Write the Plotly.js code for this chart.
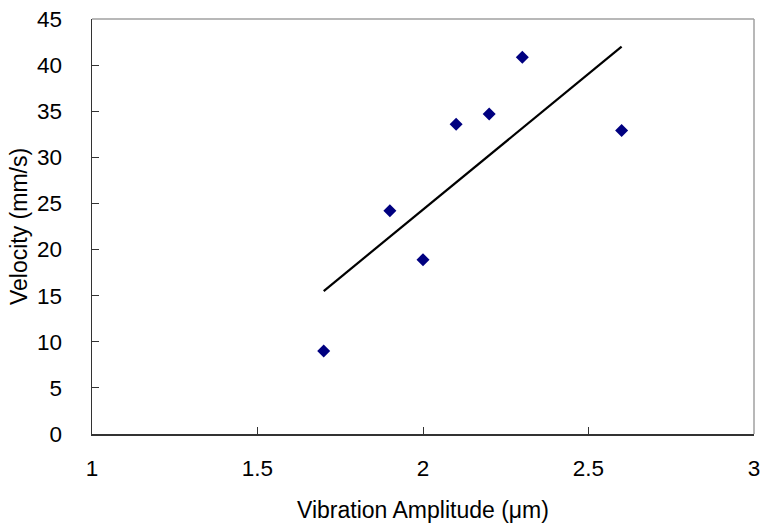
<!DOCTYPE html>
<html>
<head>
<meta charset="utf-8">
<script src="https://cdn.plot.ly/plotly-3.0.1.min.js"></script>
<style>html,body{margin:0;padding:0;background:#fff;}#chart{width:763px;height:526px;}</style>
</head>
<body>
<div id="chart"></div>
<script>
const amplitude = [1.7, 1.9, 2.0, 2.1, 2.2, 2.3, 2.6];
const velocity = [9.0, 24.2, 18.9, 33.6, 34.7, 40.85, 32.9];
const trendX = [1.7, 2.6];
const trendY = [15.5, 42.0];
const xTicks = [1, 1.5, 2, 2.5, 3];
const yTicks = [0, 5, 10, 15, 20, 25, 30, 35, 40, 45];

const tickFont = {family: 'Liberation Sans, Arial, sans-serif', size: 22.5, color: '#000'};
const titleFont = {family: 'Liberation Sans, Arial, sans-serif', size: 23, color: '#000'};

const traces = [
  {x: trendX, y: trendY, type: 'scatter', mode: 'lines',
   line: {color: '#000', width: 2.2}, hoverinfo: 'skip'},
  {x: amplitude, y: velocity, type: 'scatter', mode: 'markers',
   marker: {symbol: 'diamond', size: 10, color: '#000080'}}
];

const layout = {
  width: 763, height: 526,
  margin: {l: 91.5, r: 9, t: 19, b: 92.3},
  paper_bgcolor: '#fff', plot_bgcolor: '#fff',
  showlegend: false,
  font: tickFont,
  xaxis: {
    range: [1, 3], tickvals: xTicks, ticktext: xTicks.map(String),
    showgrid: false, zeroline: false,
    showline: true, linecolor: '#333', linewidth: 1.5,
    ticks: 'inside', ticklen: 7, tickcolor: '#333', tickwidth: 1,
    tickfont: tickFont, ticklabelstandoff: 13,
    title: {text: 'Vibration Amplitude (μm)', font: titleFont, standoff: 22}
  },
  yaxis: {
    range: [0, 45], tickvals: yTicks, ticktext: yTicks.map(String),
    showgrid: false, zeroline: false,
    showline: true, linecolor: '#333', linewidth: 1.5,
    ticks: 'inside', ticklen: 7, tickcolor: '#333', tickwidth: 1,
    tickfont: tickFont, ticklabelstandoff: 24,
    title: {text: 'Velocity (mm/s)', font: titleFont, standoff: 3}
  },
  shapes: [
    {type: 'line', xref: 'paper', yref: 'paper', x0: 0, x1: 1, y0: 1, y1: 1,
     line: {color: '#a0a0a0', width: 1.5}},
    {type: 'line', xref: 'paper', yref: 'paper', x0: 1, x1: 1, y0: 0, y1: 1,
     line: {color: '#a0a0a0', width: 1.5}}
  ]
};

Plotly.newPlot('chart', traces, layout, {displayModeBar: false, staticPlot: true});
</script>
</body>
</html>
